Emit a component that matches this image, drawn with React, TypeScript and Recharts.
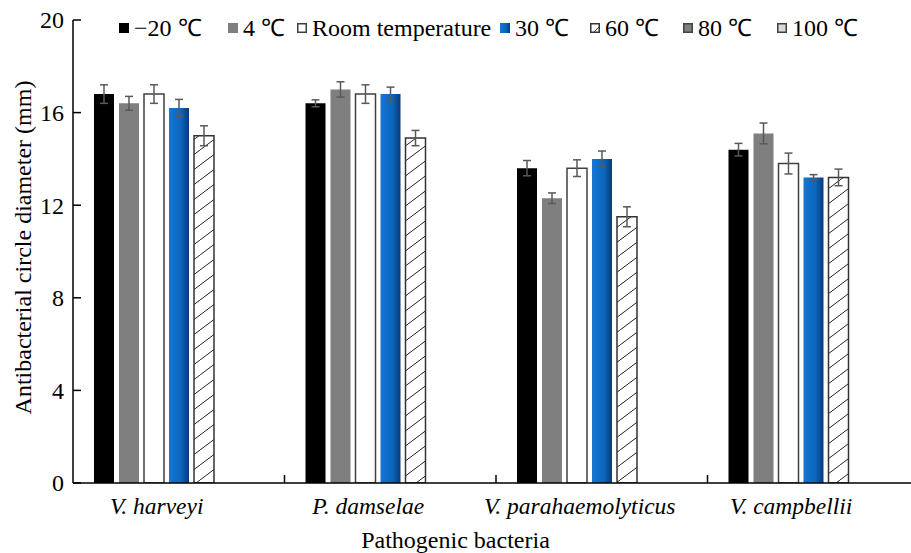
import React from 'react';
import { BarChart, Bar, XAxis, YAxis, ErrorBar, Legend, Label, ReferenceLine } from 'recharts';

const categories = ['V. harveyi', 'P. damselae', 'V. parahaemolyticus', 'V. campbellii'];
const seriesNames = ['−20 ℃', '4 ℃', 'Room temperature', '30 ℃', '60 ℃', '80 ℃', '100 ℃'];

const minus20 = [16.8, 16.4, 13.6, 14.4];
const minus20Err = [0.4, 0.15, 0.33, 0.27];
const plus4 = [16.4, 17.0, 12.3, 15.1];
const plus4Err = [0.3, 0.33, 0.23, 0.45];
const roomTemp = [16.8, 16.8, 13.6, 13.8];
const roomTempErr = [0.4, 0.4, 0.36, 0.45];
const plus30 = [16.2, 16.8, 14.0, 13.2];
const plus30Err = [0.37, 0.3, 0.34, 0.12];
const plus60 = [15.0, 14.9, 11.5, 13.2];
const plus60Err = [0.43, 0.33, 0.43, 0.36];
const plus80: (number | null)[] = [null, null, null, null];
const plus100: (number | null)[] = [null, null, null, null];

const yTicks = [0, 4, 8, 12, 16, 20];

const values = [minus20, plus4, roomTemp, plus30, plus60, plus80, plus100];
const errors = [minus20Err, plus4Err, roomTempErr, plus30Err, plus60Err, null, null];

const data = categories.map((name, i) => {
  const row: any = { name };
  values.forEach((arr, s) => {
    row['s' + s] = arr[i];
    const e = errors[s];
    if (e) row['e' + s] = e[i];
  });
  return row;
});

const CHART_W = 911;
const CHART_H = 553;
const FONT = "'Liberation Serif', 'Times New Roman', serif";
const MARGIN = { top: 20, right: -8, bottom: 0, left: 23 };
const Y_AXIS_W = 50;
const X_TICK_MARGIN = 14;
const Y_TICK_MARGIN = 8;
const LEGEND_X = [119, 228, 297, 500, 590, 683, 777];

const BAR_STYLES: any[] = [
  { fill: '#000000' },
  { fill: '#7f7f7f' },
  { fill: '#ffffff', stroke: '#404040', strokeWidth: 1.5 },
  { fill: 'url(#blueGrad)' },
  { fill: 'url(#hatch60)', stroke: '#333333', strokeWidth: 1.5 },
  { fill: '#7f7f7f', stroke: '#404040', strokeWidth: 1.5 },
  { fill: '#d9d9d9', stroke: '#404040', strokeWidth: 1.5 },
];

const LegendSymbol = ({ i }: { i: number }) => (
  <svg width={10} height={10} style={{ marginRight: 5, flex: 'none' }}>
    <defs>
      <linearGradient id={'lgBlue' + i} x1="0" y1="0" x2="1" y2="0">
        <stop offset="0%" stopColor="#1676d2" />
        <stop offset="60%" stopColor="#0b66bc" />
        <stop offset="100%" stopColor="#0a3a78" />
      </linearGradient>
    </defs>
    {i === 0 && <rect x={0} y={0} width={10} height={10} fill="#000" />}
    {i === 1 && <rect x={0} y={0} width={10} height={10} fill="#7f7f7f" />}
    {i === 2 && <rect x={0.75} y={0.75} width={8.5} height={8.5} fill="#fff" stroke="#404040" strokeWidth={1.5} />}
    {i === 3 && <rect x={0} y={0} width={10} height={10} fill={'url(#lgBlue' + i + ')'} />}
    {i === 4 && (
      <g>
        <rect x={0.75} y={0.75} width={8.5} height={8.5} fill="#fff" stroke="#333" strokeWidth={1.5} />
        <line x1={4} y1={9} x2={9} y2={4} stroke="#333" strokeWidth={1} />
      </g>
    )}
    {i === 5 && <rect x={0.75} y={0.75} width={8.5} height={8.5} fill="#7f7f7f" stroke="#404040" strokeWidth={1.5} />}
    {i === 6 && <rect x={0.75} y={0.75} width={8.5} height={8.5} fill="#d9d9d9" stroke="#404040" strokeWidth={1.5} />}
  </svg>
);

const renderLegend = () => (
  <div style={{ position: 'relative', width: CHART_W, height: 0 }}>
    {seriesNames.map((n, i) => (
      <div
        key={n}
        style={{
          position: 'absolute',
          left: LEGEND_X[i],
          top: 14,
          display: 'flex',
          alignItems: 'center',
          whiteSpace: 'nowrap',
          fontFamily: FONT,
          fontSize: 24,
          lineHeight: '28px',
          color: '#000',
        }}
      >
        <LegendSymbol i={i} />
        <span>{n}</span>
      </div>
    ))}
  </div>
);

const XTick = (props: any) => {
  const { x, y, payload } = props;
  return (
    <text
      x={Number(x) - 22}
      y={y}
      dy="0.71em"
      textAnchor="middle"
      fontStyle="italic"
      fontSize={23.5}
      fontFamily={FONT}
      fill="#000"
    >
      {payload.value}
    </text>
  );
};

const YTick = (props: any) => {
  const { x, y, payload } = props;
  const axisX = Number(x) + Y_TICK_MARGIN;
  return (
    <g>
      <line x1={axisX} x2={axisX + 8} y1={y} y2={y} stroke="#000" strokeWidth={1.5} />
      <text x={Number(x) - 1} y={y} dy="0.35em" textAnchor="end" fontSize={24} fontFamily={FONT} fill="#000">
        {payload.value}
      </text>
    </g>
  );
};

const BoundaryTick = (props: any) => {
  const x1 = Number(props.x1);
  const yb = Math.max(Number(props.y1), Number(props.y2));
  if (!isFinite(x1) || !isFinite(yb)) return null;
  return <path d={`M${x1},${yb} V${yb - 8}`} stroke="#000" strokeWidth={1.5} fill="none" />;
};

const YTitle = (props: any) => {
  const vb = props.viewBox || { x: 23, y: 20, height: 463 };
  const cx = vb.x;
  const cy = vb.y + vb.height / 2 - 4;
  return (
    <text
      x={cx}
      y={cy}
      transform={`rotate(-90 ${cx} ${cy})`}
      textAnchor="middle"
      dominantBaseline="central"
      fontSize={24}
      fontFamily={FONT}
      fill="#000"
    >
      Antibacterial circle diameter (mm)
    </text>
  );
};

const XTitle = (props: any) => {
  const vb = props.viewBox || { y: 483, height: 70 };
  return (
    <text
      x={CHART_W / 2}
      y={vb.y + vb.height - 5}
      textAnchor="middle"
      fontSize={24}
      fontFamily={FONT}
      fill="#000"
    >
      Pathogenic bacteria
    </text>
  );
};

export default function App() {
  return (
    <div style={{ position: 'absolute', left: 0, top: 0, width: CHART_W, height: CHART_H, background: '#fff' }}>
      <BarChart
        width={CHART_W}
        height={CHART_H}
        data={data}
        margin={MARGIN}
        barGap={5}
        style={{ fontFamily: FONT }}
      >
        <defs>
          <linearGradient id="blueGrad" x1="0" y1="0" x2="1" y2="0">
            <stop offset="0%" stopColor="#1676d2" />
            <stop offset="60%" stopColor="#0b66bc" />
            <stop offset="100%" stopColor="#0a3a78" />
          </linearGradient>
          <pattern id="hatch60" patternUnits="userSpaceOnUse" width={20} height={15}>
            <rect x={0} y={0} width={20} height={15} fill="#fff" />
            <path d="M-2,16.5 L22,-1.5" stroke="#222" strokeWidth={1} />
          </pattern>
        </defs>
        <XAxis
          dataKey="name"
          height={70}
          tickSize={0}
          tickMargin={X_TICK_MARGIN}
          tickLine={false}
          axisLine={{ stroke: '#000', strokeWidth: 1.5 }}
          tick={<XTick />}
          interval={0}
        >
          <Label content={<XTitle />} />
        </XAxis>
        <YAxis
          width={Y_AXIS_W}
          domain={[0, 20]}
          ticks={yTicks}
          tickSize={0}
          tickMargin={Y_TICK_MARGIN}
          tickLine={false}
          axisLine={{ stroke: '#000', strokeWidth: 1.5 }}
          tick={<YTick />}
          allowDataOverflow
        >
          <Label content={<YTitle />} />
        </YAxis>
        <Legend
          verticalAlign="top"
          content={renderLegend}
          wrapperStyle={{ top: 0, left: 0, width: CHART_W, height: 0, margin: 0 }}
        />
        {seriesNames.map((n, s) => (
          <Bar
            key={n}
            dataKey={'s' + s}
            name={n}
            barSize={20}
            isAnimationActive={false}
            {...BAR_STYLES[s]}
          >
            {errors[s] && (
              <ErrorBar dataKey={'e' + s} width={4} stroke="#595959" strokeWidth={1.5} direction="y" />
            )}
          </Bar>
        ))}
        {categories.map((c) => (
          <ReferenceLine key={'b' + c} x={c} position="end" ifOverflow="visible" shape={<BoundaryTick />} />
        ))}
      </BarChart>
    </div>
  );
}
